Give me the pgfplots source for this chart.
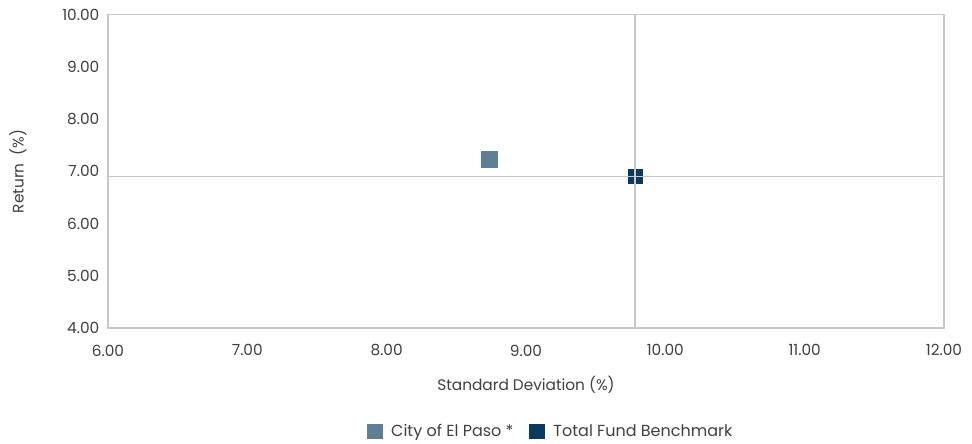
\documentclass[border=0pt]{standalone}
\usepackage{pgfplots}
\pgfplotsset{compat=1.18}
\usepackage{fontspec}
\setmainfont{Poppins}
\definecolor{cityc}{HTML}{5E7F94}
\definecolor{benchc}{HTML}{0A3A5F}
\definecolor{gridc}{HTML}{C8C8C8}
\definecolor{txt}{HTML}{404040}
\begin{document}
\begin{tikzpicture}
\begin{axis}[
  name=ax, at={(0,0)}, anchor=south west,
  scale only axis, width=627pt, height=235pt,
  xmin=6, xmax=12, ymin=4, ymax=10,
  xtick={6,7,...,12}, ytick={4,5,...,10},
  major tick length=0pt,
  axis line style={gridc, line width=1pt},
  tick label style={font=\fontsize{11.5}{13}\selectfont, text=txt},
  /pgf/number format/assume math mode=true,
  xticklabel style={/pgf/number format/.cd, fixed, fixed zerofill, precision=2},
  yticklabel style={/pgf/number format/.cd, fixed, fixed zerofill, precision=2},
  xticklabel shift=9pt, yticklabel shift=3pt,
  xlabel={Standard Deviation (\%)}, ylabel={Return\ \ (\%)},
  label style={font=\fontsize{11.5}{13}\selectfont, text=txt},
  xlabel style={yshift=-8pt},
  ylabel style={yshift=20pt},
  legend style={at={(0.53,-0.33)}, anchor=center, draw=none, font=\fontsize{12}{14}\selectfont, text=txt, legend columns=2,
    /tikz/every odd column/.append style={column sep=5pt},
    /tikz/every even column/.append style={column sep=10pt}},
  legend image code/.code={\draw[#1, mark size=5.5pt] plot coordinates {(0pt,0pt)};},
  clip=false, clip marker paths=true,
]
\addplot[only marks, mark=square*, mark size=6pt, mark options={fill=cityc, draw=cityc}] coordinates {(8.735,7.24)};
\addlegendentry{City of El Paso *}
\addplot[only marks, mark=square*, mark size=5.25pt, mark options={fill=benchc, draw=benchc}] coordinates {(9.785,6.90)};
\addlegendentry{Total Fund Benchmark}
\addplot[gridc, line width=1.4pt, forget plot] coordinates {(9.78,4) (9.78,10)};
\addplot[gridc, line width=1.4pt, forget plot] coordinates {(6,6.90) (12,6.90)};
\end{axis}
\path[use as bounding box] (-81pt,-86.25pt) rectangle (648pt,246pt);
\end{tikzpicture}
\end{document}
